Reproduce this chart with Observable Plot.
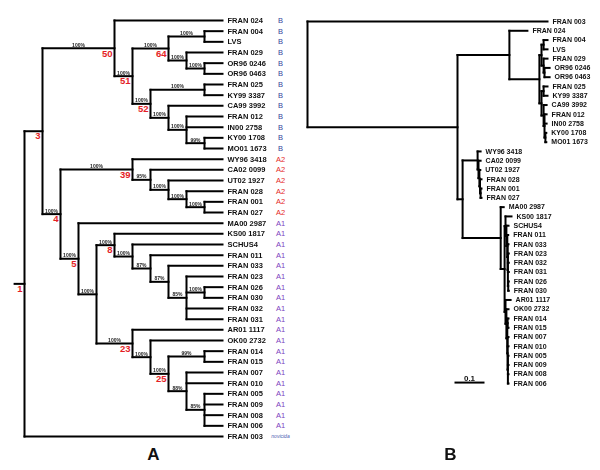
<!DOCTYPE html>
<html><head><meta charset="utf-8">
<script src="https://cdn.jsdelivr.net/npm/d3@7"></script>
<script src="https://cdn.jsdelivr.net/npm/@observablehq/plot@0.6"></script>
<style>
body{margin:0;background:#fff;}
#wrap{position:relative;width:600px;height:470px;overflow:hidden;}
#wrap > div{position:absolute;top:0;width:300px;height:470px;}
svg{display:block;}
.mono{position:absolute;top:0;left:0;filter:grayscale(1);}
</style>
</head><body>
<div id="wrap"><div id="ta" style="left:0px"></div><div id="tb" style="left:300px"></div></div>
<script>
// ---------- DATA ----------
// Tree A (cladogram): internal labels "support|node id"
const cladeB_A = "(FRAN 024,(((FRAN 004,LVS)100%,(FRAN 029,(OR96 0246,OR96 0463)100%)100%)100%|64,((FRAN 025,KY99 3387)100%,(CA99 3992,(FRAN 012,IN00 2758,(KY00 1708,MO01 1673)99%)100%)100%)100%|52)100%|51)100%|50";
const cladeA2_A = "(WY96 3418,(CA02 0099,(UT02 1927,(FRAN 028,(FRAN 001,FRAN 027)100%)100%)100%)95%)100%|39";
const cladeA1_A = "(MA00 2987,((KS00 1817,(SCHUS4,(FRAN 011,(FRAN 033,(FRAN 023,(FRAN 026,FRAN 030)100%,FRAN 032,FRAN 031)85%)87%)87%)100%)100%|8,(AR01 1117,(OK00 2732,((FRAN 014,FRAN 015)99%,(FRAN 007,FRAN 010,(FRAN 005,FRAN 009,FRAN 008,FRAN 006)85%)88%)100%|25)100%)100%|23)100%)100%|5";
const newickA = "((" + cladeB_A + ",(" + cladeA2_A + "," + cladeA1_A + ")100%|4)|3,FRAN 003)|1;";

// Subtype of each leaf of tree A, top to bottom
const classesA = ["B","B","B","B","B","B","B","B","B","B","B","B","B",
  "A2","A2","A2","A2","A2","A2",
  "A1","A1","A1","A1","A1","A1","A1","A1","A1","A1","A1","A1","A1","A1","A1","A1","A1","A1","A1","A1",
  "novicida"];
const classNames = ["B","A2","A1","novicida"];
const classColors = ["#33459c","#e41e26","#7b3fc0","#4a5cb0"];

// Tree B (phylogram, branch lengths in substitutions/site)
const cladeB_B = "(FRAN 024:0.06,(((FRAN 004:0.013,LVS:0.013):0.007,(FRAN 029:0.013,(OR96 0246:0.017,OR96 0463:0.017):0.003):0.007):0.007,((FRAN 025:0.013,KY99 3387:0.013):0.007,(CA99 3992:0.01,(FRAN 012:0.007,IN00 2758:0.007,(KY00 1708:0.003,MO01 1673:0.003):0.003):0.003):0.007):0.007):0.1):0.173";
const cladeA2_B = "(WY96 3418:0.01,(CA02 0099:0.007,(UT02 1927:0.003,(FRAN 028:0.005,(FRAN 001:0.003,FRAN 027:0.003):0.002):0.002):0.003):0.003):0.05";
const cladeA1_B = "(MA00 2987:0.01,((KS00 1817:0.02,(SCHUS4:0.007,(FRAN 011:0.003,(FRAN 033:0.003,(FRAN 023:0.003,FRAN 032:0.003,FRAN 031:0.003,(FRAN 026:0.002,FRAN 030:0.002):0.001):0.001):0.001):0.003):0.003):0.003,(AR01 1117:0.017,(OK00 2732:0.007,((FRAN 014:0.003,FRAN 015:0.003):0.001,(FRAN 007:0.003,FRAN 010:0.003,(FRAN 005:0.002,FRAN 009:0.002,FRAN 008:0.002,FRAN 006:0.002):0.001):0.001):0.003):0.003):0.003):0.013):0.127";
const newickB = "(FRAN 003:0.8,(" + cladeB_B + ",(" + cladeA2_B + "," + cladeA1_B + "):0.017):0.5);";
const scaleBarValue = 0.1;
const panelLabels = ["A","B"];

// ---------- PARSE / LAYOUT ----------
function parseNewick(s) {
  let i = 0;
  function node() {
    const n = {children: []};
    if (s[i] === "(") {
      i++;
      n.children.push(node());
      while (s[i] === ",") { i++; n.children.push(node()); }
      i++;
    }
    let lab = "";
    while (i < s.length && !",():;".includes(s[i])) lab += s[i++];
    lab = lab.trim();
    if (s[i] === ":") {
      i++; let num = "";
      while (i < s.length && !",();".includes(s[i])) num += s[i++];
      n.length = +num;
    }
    if (n.children.length) {
      const [sup, id] = lab.split("|");
      n.support = sup || ""; n.id = id || "";
    } else n.name = lab;
    return n;
  }
  return node();
}
function layout(root, useLengths) {
  let leaf = 0;
  const nodes = [];
  (function visit(n, parent, acc) {
    n.parent = parent;
    n.x = acc;
    if (!n.children.length) { n.y = leaf++; n.height = 0; }
    else {
      n.children.forEach(c => visit(c, n, acc + (c.length || 0)));
      n.y = (n.children[0].y + n.children[n.children.length - 1].y) / 2;
      n.height = 1 + d3.max(n.children, c => c.height);
    }
    nodes.push(n);
  })(root, null, 0);
  if (!useLengths) nodes.forEach(n => n.x = root.height - n.height);
  const segs = [];
  nodes.forEach(n => {
    if (n.parent) segs.push({x1: n.parent.x, x2: n.x, y1: n.y, y2: n.y});
    if (n.children.length) segs.push({x1: n.x, x2: n.x, y1: n.children[0].y, y2: n.children[n.children.length - 1].y});
  });
  return {nodes, segs, leaves: nodes.filter(n => !n.children.length).sort((a, b) => a.y - b.y),
          internal: nodes.filter(n => n.children.length)};
}

const FONT = "'Liberation Sans', Arial, Helvetica, sans-serif";
const RED = "#e41e26";

// ---------- TREE A ----------
const rootA = parseNewick(newickA);
const A = layout(rootA, false);
A.leaves.forEach((d, i) => { d.cls = classesA[i]; d.color = classColors[classNames.indexOf(classesA[i])]; });
A.segs.push({x1: rootA.x - 0.55, x2: rootA.x, y1: rootA.y, y2: rootA.y}); // root stem

const scalesA = {
  width: 300, height: 470, margin: 0,
  x: {domain: [0, rootA.height], range: [24, 222], axis: null},
  y: {domain: [0, A.leaves.length - 1], range: [20, 436], axis: null},
  color: {type: "identity"}
};
const plotA = Plot.plot({
  ...scalesA,
  style: {fontFamily: FONT, background: "white", overflow: "visible"},
  marks: [
    Plot.link(A.segs, {x1: "x1", y1: "y1", x2: "x2", y2: "y2", stroke: "black", strokeWidth: 2, strokeLinecap: "square"}),
    Plot.text(A.leaves.filter(d => d.cls !== "novicida"), {x: "x", y: "y", text: "cls", dx: 58, textAnchor: "middle", fontSize: 7.5, fill: "color"}),
    Plot.text(A.leaves.filter(d => d.cls === "novicida"), {x: "x", y: "y", text: "cls", dx: 58, textAnchor: "middle", fontSize: 5, fontStyle: "italic", fill: "color"}),
    Plot.text(A.internal.filter(d => d.id), {x: "x", y: "y", text: "id", textAnchor: "end", lineAnchor: "top", dx: -2, dy: 1.5, fontSize: 9.5, fontWeight: "bold", fill: RED}),
    Plot.text([panelLabels[0]], {frameAnchor: "bottom", dx: 3, dy: -11, fontSize: 17, fontWeight: "bold", fill: "#111"})
  ]
});
// black text layer (same scales) drawn on top
const plotAText = Plot.plot({
  ...scalesA,
  style: {fontFamily: FONT, background: "transparent", overflow: "visible"},
  marks: [
    Plot.text(A.leaves, {x: "x", y: "y", text: "name", dx: 5, textAnchor: "start", fontSize: 7.5, fontWeight: "bold", fill: "#111"}),
    Plot.text(A.internal.filter(d => d.support), {x: d => (d.parent.x + d.x) / 2, y: "y", text: "support", lineAnchor: "bottom", dy: -1.5, fontSize: 5, fontWeight: "bold", fill: "#222"})
  ]
});
plotAText.classList.add("mono");
document.getElementById("ta").append(plotA, plotAText);

// ---------- TREE B ----------
const rootB = parseNewick(newickB);
const B = layout(rootB, true);
const scaleBar = [{x1: 0.49, x2: 0.49 + scaleBarValue, y: B.leaves.length - 1.1, label: String(scaleBarValue)}];

const plotB = Plot.plot({
  width: 300, height: 470, margin: 0,
  x: {domain: [0, 1], range: [7, 307], axis: null},
  y: {domain: [0, B.leaves.length - 1], range: [21, 383], axis: null},
  style: {fontFamily: FONT, background: "white", overflow: "visible"},
  marks: [
    Plot.link(B.segs, {x1: "x1", y1: "y1", x2: "x2", y2: "y2", stroke: "black", strokeWidth: 2, strokeLinecap: "square"}),
    Plot.text(B.leaves, {x: "x", y: "y", text: "name", dx: 5, textAnchor: "start", fontSize: 7, fontWeight: "bold", fill: "#111"}),
    Plot.link(scaleBar, {x1: "x1", x2: "x2", y1: "y", y2: "y", stroke: "black", strokeWidth: 2}),
    Plot.text(scaleBar, {x: d => (d.x1 + d.x2) / 2, y: "y", text: "label", lineAnchor: "bottom", dy: -2, fontSize: 8, fontWeight: "bold", fill: "#111"}),
    Plot.text([panelLabels[1]], {frameAnchor: "bottom", dy: -11, fontSize: 17, fontWeight: "bold", fill: "#111"})
  ]
});
plotB.style.filter = "grayscale(1)";
document.getElementById("tb").append(plotB);
</script>
</body></html>
